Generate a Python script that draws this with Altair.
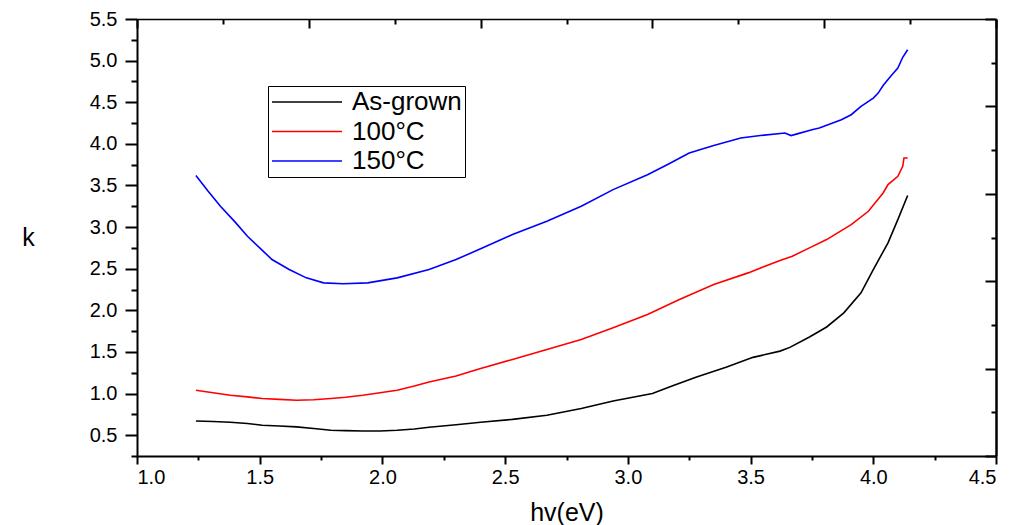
import altair as alt
import pandas as pd

series_names = ["As-grown", "100°C", "150°C"]
series_colors = ["#000000", "#ff0000", "#0000ff"]

x_asgrown = [1.24, 1.31, 1.38, 1.45, 1.51, 1.58, 1.65, 1.72, 1.79, 1.85, 1.92, 1.99, 2.06, 2.13,
             2.19, 2.30, 2.40, 2.53, 2.67, 2.81, 2.94, 3.10, 3.18, 3.28, 3.40, 3.51, 3.62, 3.66,
             3.74, 3.81, 3.88, 3.95, 4.00, 4.06, 4.10, 4.14]
k_asgrown = [0.67, 0.665, 0.655, 0.64, 0.62, 0.61, 0.60, 0.58, 0.56, 0.555, 0.55, 0.55, 0.56, 0.575,
             0.595, 0.625, 0.655, 0.69, 0.74, 0.82, 0.91, 1.00, 1.09, 1.20, 1.315, 1.435, 1.51, 1.555,
             1.68, 1.80, 1.97, 2.21, 2.49, 2.81, 3.09, 3.38]

x_100 = [1.24, 1.31, 1.38, 1.45, 1.51, 1.58, 1.65, 1.72, 1.79, 1.85, 1.92, 1.99, 2.06, 2.13, 2.19,
         2.30, 2.40, 2.53, 2.67, 2.81, 2.94, 3.08, 3.21, 3.35, 3.49, 3.62, 3.67, 3.74, 3.81, 3.91,
         3.98, 4.04, 4.06, 4.10, 4.12, 4.125, 4.14]
k_100 = [1.04, 1.01, 0.98, 0.96, 0.94, 0.93, 0.92, 0.925, 0.94, 0.955, 0.98, 1.01, 1.04, 1.09, 1.14,
         1.21, 1.30, 1.41, 1.53, 1.65, 1.79, 1.95, 2.13, 2.31, 2.45, 2.60, 2.65, 2.75, 2.85, 3.03,
         3.19, 3.41, 3.51, 3.61, 3.73, 3.83, 3.83]

x_150 = [1.24, 1.29, 1.34, 1.40, 1.45, 1.50, 1.55, 1.62, 1.69, 1.76, 1.84, 1.94, 2.06, 2.19, 2.30,
         2.40, 2.53, 2.67, 2.81, 2.94, 3.08, 3.16, 3.25, 3.35, 3.46, 3.54, 3.64, 3.665, 3.69, 3.75,
         3.78, 3.87, 3.91, 3.95, 4.00, 4.02, 4.04, 4.07, 4.10, 4.12, 4.14]
k_150 = [3.62, 3.43, 3.25, 3.06, 2.89, 2.75, 2.61, 2.49, 2.39, 2.33, 2.32, 2.33, 2.39, 2.49, 2.61,
         2.74, 2.91, 3.07, 3.25, 3.45, 3.63, 3.75, 3.89, 3.98, 4.07, 4.10, 4.13, 4.10, 4.12, 4.17,
         4.19, 4.29, 4.35, 4.45, 4.55, 4.61, 4.70, 4.81, 4.91, 5.04, 5.13]

x_ticks = [1.0 + 0.25 * i for i in range(15)]
y_ticks = [0.25 + 0.25 * i for i in range(22)]
frame_ticks = list(range(11))

rows = []
for name, xs, ks in zip(series_names, [x_asgrown, x_100, x_150], [k_asgrown, k_100, k_150]):
    for i, (xv, kv) in enumerate(zip(xs, ks)):
        rows.append({"series": name, "hv": xv, "k": kv, "idx": i})
df = pd.DataFrame(rows)
frame_df = pd.DataFrame({"u": [0, 10], "v": [0, 10]})

W, H = 859, 437
FONT = "Liberation Sans"

major_test = "round(datum.value*4) % 2 === 0"

x_axis = alt.Axis(
    title="hv(eV)", values=x_ticks, grid=False,
    labelExpr="round(datum.value*4) % 2 === 0 ? format(datum.value, '.1f') : ''",
    tickSize={"condition": {"test": major_test, "value": 8}, "value": 4},
    labelFontSize=20, labelPadding=3, labelFont=FONT, labelColor="black",
    titleFont=FONT, titleFontSize=25, titleFontWeight="normal", titleColor="black",
    titleX=W / 2, titleY=56, titleBaseline="middle", titleAlign="center",
    domainColor="black", domainWidth=2, tickColor="black", tickWidth=2,
)
y_axis = alt.Axis(
    title="k", values=y_ticks, grid=False,
    labelExpr="round(datum.value*4) % 2 === 0 ? format(datum.value, '.1f') : ''",
    tickSize={"condition": {"test": major_test, "value": 12}, "value": 6},
    labelFontSize=20, labelPadding=8, labelFont=FONT, labelColor="black",
    titleFont=FONT, titleFontSize=25, titleFontWeight="normal", titleColor="black",
    titleAngle=0, titleX=-109, titleY=H / 2, titleBaseline="middle", titleAlign="center",
    domainColor="black", domainWidth=2, tickColor="black", tickWidth=2,
)

lines = alt.Chart(df).mark_line(strokeWidth=1.6).encode(
    x=alt.X("hv:Q", scale=alt.Scale(domain=[1.0, 4.5], nice=False, zero=False), axis=x_axis),
    y=alt.Y("k:Q", scale=alt.Scale(domain=[0.25, 5.5], nice=False, zero=False), axis=y_axis),
    color=alt.Color(
        "series:N",
        scale=alt.Scale(domain=series_names, range=series_colors),
        legend=alt.Legend(
            title=None, orient="none", legendX=131, legendY=67,
            symbolType="stroke", symbolSize=4900, symbolStrokeWidth=1.5,
            clipHeight=26, rowPadding=3.5,
            labelFont=FONT, labelFontSize=26, labelColor="black", labelOffset=9,
            padding=3, strokeColor="black", fillColor="white",
            labelLimit=300,
        ),
    ),
    detail="series:N",
    order="idx:Q",
)

frame_test = "datum.value % 2 === 0"
frame = alt.Chart(frame_df).mark_point(opacity=0).encode(
    x=alt.X("u:Q", scale=alt.Scale(domain=[0, 10], nice=False, zero=False),
            axis=alt.Axis(orient="bottom", offset=-H, values=frame_ticks, labels=False, title=None,
                          grid=False, domainColor="black", domainWidth=1.5, tickColor="black",
                          tickWidth=2,
                          tickSize={"condition": {"test": frame_test, "value": 9}, "value": 5})),
    y=alt.Y("v:Q", scale=alt.Scale(domain=[0, 10], nice=False, zero=False),
            axis=alt.Axis(orient="left", offset=-W, values=frame_ticks, labels=False, title=None,
                          grid=False, domainColor="black", domainWidth=2.5, tickColor="black",
                          tickWidth=2,
                          tickSize={"condition": {"test": frame_test, "value": 11}, "value": 5})),
)

chart = alt.layer(lines, frame).resolve_scale(x="independent", y="independent").properties(
    width=W, height=H,
    autosize=alt.AutoSizeParams(type="none"),
    padding={"left": 129, "top": 11, "right": 10, "bottom": 75},
    background="white",
).configure_view(stroke=None)

chart.save("out.html", embed_options={"renderer": "svg", "actions": False})
